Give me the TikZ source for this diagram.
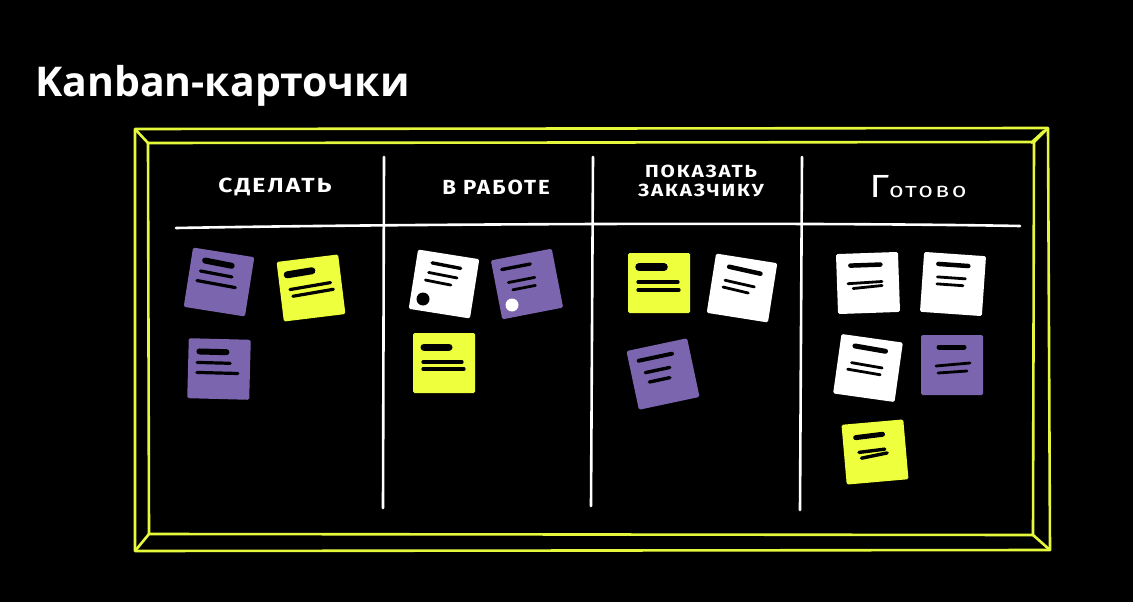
\documentclass[tikz,border=0pt]{standalone}
\usepackage{fontspec}
\usepackage{graphicx}
\setmainfont{Open Sans}
\newfontfamily\titlefont{Open Sans}
\newfontfamily\handfont[LetterSpace=9]{Fira Sans}
\definecolor{frameyel}{HTML}{E6F83C}
\definecolor{cardyel}{HTML}{EEFF3E}
\definecolor{cardpur}{HTML}{7B65AE}
\tikzset{
  cardbg/.style={rounded corners=1.5pt},
  thickln/.style={black, line width=6pt, line cap=round},
  thinln/.style={black, line width=3.2pt, line cap=round},
  wthick/.style={black, line width=4.5pt, line cap=round},
  wthin/.style={black, line width=2.8pt, line cap=round},
  frame/.style={frameyel, line width=2.6pt, line join=round},
  divider/.style={white, line width=2.6pt, line cap=round},
  header/.style={white, font=\handfont\bfseries\fontsize{20}{22}\selectfont, align=center, inner sep=0pt},
}
% card: x, y, rotation, colour, line commands
\newcommand\kcard[5]{%
  \begin{scope}[shift={(#1,#2)},rotate=#3]
    \fill[#4, cardbg] (-31,-30) rectangle (31,30);
    #5
  \end{scope}}
\begin{document}
\begin{tikzpicture}[x=1pt,y=-1pt]
\fill[black] (0,0) rectangle (1133,602);
\useasboundingbox (0,0) rectangle (1133,602);

% title
\node[anchor=base west, white, inner sep=0pt, font=\titlefont\bfseries\fontsize{41}{45}\selectfont] (title) at (35,96) {Kanban-карточки};

% frame
\draw[frame] (135,129) -- (1048,128) -- (1050,550) -- (135,551) -- cycle;
\draw[frame] (148,143) -- (1034,142) -- (1033,535) -- (149,534) -- cycle;
\draw[frame] (135,129) -- (148,143);
\draw[frame] (1048,128) -- (1034,142);
\draw[frame] (1044,131) -- (1031,143);
\draw[frame] (1050,550) -- (1033,535);
\draw[frame] (135,551) -- (149,534);

% dividers
\draw[divider] (176,228) .. controls (400,224) and (800,222) .. (1020,226);
\draw[divider] (384,157) -- (383,508);
\draw[divider] (593,157) -- (591,506);
\draw[divider] (802,157) -- (800,510);

% headers
\node[header] (h1) at (275,187) {\scalebox{1.23}[1.02]{СДЕЛАТЬ}};
\node[header] (h2) at (496,187) {\scalebox{1.11}[1.02]{В РАБОТЕ}};
\node[header, font=\handfont\bfseries\fontsize{17.5}{19.5}\selectfont] (h3) at (701,183) {\scalebox{1.18}[1]{\begin{tabular}{@{}c@{}}ПОКАЗАТЬ\\[-1pt]ЗАКАЗЧИКУ\end{tabular}}};
\node[header, anchor=base, font=\handfont\fontsize{21}{22}\selectfont] (h4) at (918,197) {\scalebox{1.2}[1]{{\fontsize{32}{32}\selectfont Г}отово}};

% column 1
\kcard{219}{282}{-9}{cardpur}{
  \draw[thickln] (-17,-19) -- (10,-18);
  \draw[thinln] (-20,-8) -- (12,-7);
  \draw[thinln] (-22,2) -- (17,3);}
\kcard{311}{288}{7}{cardyel}{
  \draw[thickln, line width=7pt] (-22,-16) -- (3,-17);
  \draw[thinln] (-21,-1) -- (20,-3);
  \draw[thinln] (-19,6) -- (22,4);}
\kcard{219}{369}{-1.5}{cardpur}{
  \draw[thickln] (-20,-17) -- (7,-17);
  \draw[thinln] (-22,-6) -- (11,-6);
  \draw[thinln] (-22,4) -- (19,4);}

% column 2
\kcard{444}{284}{-9}{white}{
  \draw[wthin, line width=3.4pt] (-15,-19) -- (14,-18);
  \draw[wthin] (-17,-9) -- (12,-8);
  \draw[wthin] (-19,-1) -- (7,0);}
\fill[black] (423,299) circle (6.5);
\kcard{527}{284}{11}{cardpur}{
  \draw[wthin, line width=3.4pt] (-22,-19) -- (7,-19);
  \draw[wthin] (-18,-5) -- (9,-5);
  \draw[wthin] (-15,3) -- (8,3);}
\fill[white] (512,305) circle (6.5);
\kcard{444}{363}{0}{cardyel}{
  \draw[thickln, line width=7pt] (-20,-16) -- (5,-16);
  \draw[thinln] (-21,-1) -- (18,-1);
  \draw[thinln] (-21,6) -- (20,6);}

% column 3
\kcard{659}{283}{0}{cardyel}{
  \draw[thickln, line width=7.5pt] (-20,-16) -- (5,-16);
  \draw[thinln] (-21,-1) -- (19,-1);
  \draw[thinln] (-21,7) -- (20,7);}
\kcard{742}{288}{-9}{white}{
  \draw[wthick] (-16,-19) -- (16,-17);
  \draw[wthin] (-18,-5) -- (12,-3);
  \draw[wthin] (-19,2) -- (7,4);}
\kcard{663}{374}{12}{cardpur}{
  \draw[wthick, line width=4pt] (-21,-18) -- (13,-18);
  \draw[wthin, line width=3.4pt] (-17,-5) -- (8,-5);
  \draw[wthin, line width=3.4pt] (-15,5) -- (6,5);}

% column 4
\kcard{868}{283}{2}{white}{
  \draw[wthick] (-17,-18) -- (13,-18);
  \draw[wthin] (-20,0) -- (14,-1);
  \draw[wthin] (-15,5) -- (14,3);}
\kcard{953}{284}{-4}{white}{
  \draw[wthick] (-16,-19) -- (14,-19);
  \draw[wthin] (-16,-6) -- (12,-6);
  \draw[wthin] (-16,1) -- (10,1);}
\kcard{868}{368}{-8}{white}{
  \draw[wthick, line width=5pt] (-16,-20) -- (15,-19);
  \draw[wthin] (-17,-3) -- (14,-2);
  \draw[wthin] (-20,4) -- (13,5);}
\kcard{952}{365}{0}{cardpur}{
  \draw[wthick, line width=5pt] (-13,-18) -- (12,-18);
  \draw[wthin] (-16,1) -- (18,-2);
  \draw[wthin] (-14,8) -- (15,6);}
\kcard{875}{452}{5}{cardyel}{
  \draw[wthick, line width=5pt] (-18,-16) -- (9,-17);
  \draw[wthin, line width=3.4pt] (-16,-1) -- (10,-2);
  \draw[wthin, line width=3.4pt] (-14,5) -- (12,2);}
\end{tikzpicture}
\end{document}
